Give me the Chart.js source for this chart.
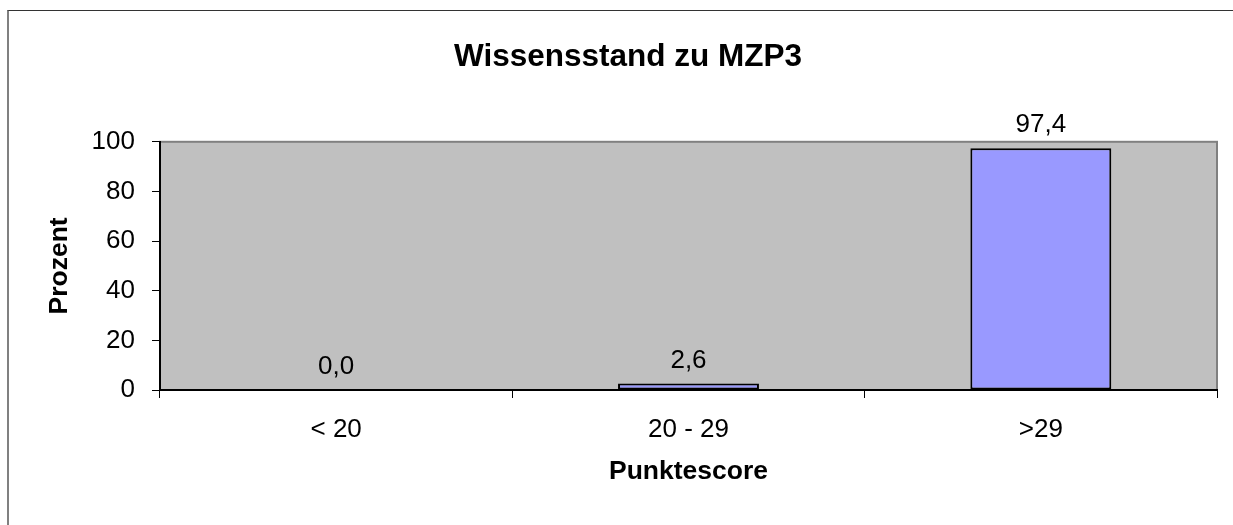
<!DOCTYPE html>
<html>
<head>
<meta charset="utf-8">
<script src="https://cdn.jsdelivr.net/npm/chart.js@4"></script>
<style>
  body { margin: 0; background: #fff; }
  #frame { position: absolute; left: 7px; top: 10px; width: 1400px; height: 700px; border-left: 2px solid #808080; border-top: 1px solid #333; }
  #wrap { position: absolute; left: 0; top: 0; width: 1233px; height: 525px; }
</style>
</head>
<body>
<div id="frame"></div>
<div id="wrap"><canvas id="chart" width="1233" height="525"></canvas></div>
<script>
var categories = ["< 20", "20 - 29", ">29"];
var percentValues = [0.0, 2.6, 97.4];
var yTicks = [0, 20, 40, 60, 80, 100];

Chart.defaults.font.family = "'Liberation Sans', Arial, sans-serif";
Chart.defaults.color = "#000";

// gray plot background with gray top/right edge
var plotBackground = {
    id: 'plotBackground',
    beforeDraw: function(chart) {
        var a = chart.chartArea, ctx = chart.ctx;
        ctx.save();
        ctx.fillStyle = "#C0C0C0";
        ctx.fillRect(a.left, a.top, a.right - a.left, a.bottom - a.top);
        ctx.strokeStyle = "#808080";
        ctx.lineWidth = 2;
        ctx.strokeRect(a.left, a.top, a.right - a.left, a.bottom - a.top);
        ctx.restore();
    }
};

// value labels above the bars
var valueLabels = {
    id: 'valueLabels',
    afterDatasetsDraw: function(chart) {
        var ctx = chart.ctx;
        var meta = chart.getDatasetMeta(0);
        ctx.save();
        ctx.font = "26px 'Liberation Sans', Arial, sans-serif";
        ctx.fillStyle = "#000";
        ctx.textAlign = "center";
        ctx.textBaseline = "alphabetic";
        meta.data.forEach(function(bar, i) {
            var txt = percentValues[i].toFixed(1).replace('.', ',');
            ctx.fillText(txt, bar.x, bar.y - 16);
        });
        ctx.restore();
    }
};

new Chart(document.getElementById("chart"), {
    type: 'bar',
    data: {
        labels: categories,
        datasets: [{
            data: percentValues,
            backgroundColor: "#9999FF",
            borderColor: "#000",
            borderWidth: 2,
            borderSkipped: false,
            barPercentage: 0.4,
            categoryPercentage: 1
        }]
    },
    plugins: [plotBackground, valueLabels],
    options: {
        responsive: false,
        animation: false,
        layout: { padding: { left: 39, right: 16, top: 0, bottom: 0 } },
        plugins: {
            legend: { display: false },
            tooltip: { enabled: false },
            title: {
                display: true,
                text: 'Wissensstand zu MZP3',
                font: { size: 31.5, weight: 'bold' },
                padding: { top: 38, bottom: 66 }
            }
        },
        scales: {
            x: {
                grid: { offset: true, drawOnChartArea: false, drawTicks: true, tickLength: 8, color: "#000" },
                border: { color: "#000", width: 2 },
                ticks: { font: { size: 26 }, padding: 16, maxRotation: 0 },
                title: { display: true, text: 'Punktescore', font: { size: 26.5, weight: 'bold' }, padding: { top: 4, bottom: 37 } },
                afterFit: function(scale) { scale.height = 135; }
            },
            y: {
                min: 0, max: 100,
                afterBuildTicks: function(scale) { scale.ticks = yTicks.map(function(v) { return { value: v }; }); },
                grid: { drawOnChartArea: false, drawTicks: true, tickLength: 8, color: "#000" },
                border: { color: "#000", width: 2 },
                ticks: { font: { size: 26 }, padding: 17 },
                title: { display: true, text: 'Prozent', font: { size: 26.5, weight: 'bold' }, padding: { top: 5, bottom: 0 } },
                afterFit: function(scale) { scale.width = 121; }
            }
        }
    }
});
</script>
</body>
</html>
